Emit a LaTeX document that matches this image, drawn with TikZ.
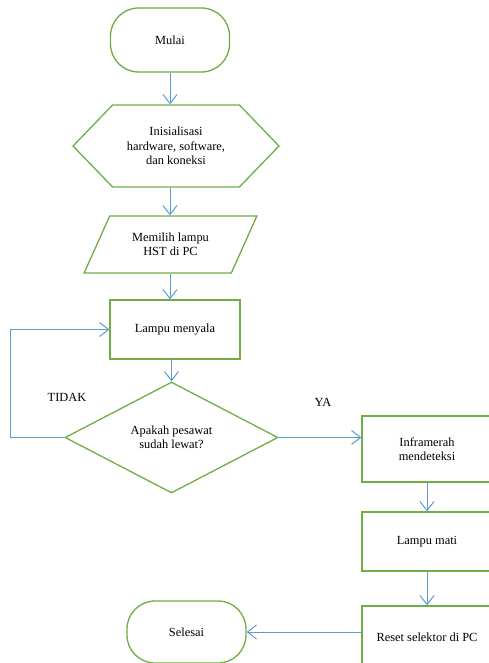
\documentclass[tikz,border=0pt]{standalone}
\usepackage{fontspec}
\setmainfont{Liberation Serif}
\usetikzlibrary{arrows.meta,shapes.geometric,shapes.symbols}

\definecolor{hijau}{RGB}{112,173,71}
\definecolor{biru}{RGB}{91,155,213}

\tikzset{
	kotak/.style={draw=hijau, line width=1.3pt, fill=white, align=center, inner sep=2pt},
	proses/.style={kotak, rectangle, minimum width=130pt},
	terminal/.style={kotak, rectangle, rounded corners=28pt, minimum width=119pt},
	alir/.style={draw=biru, line width=1pt, ->},
}

\begin{document}
\begin{tikzpicture}[x=1pt, y=-1pt, >={Straight Barb[length=9pt,width=14pt]},
	font=\fontsize{12.4}{14.5}\selectfont]
		%\draw [help lines] (0,0) grid (489,663);
		\clip (0,0) rectangle (489,663);
		% Mulai
		\node [terminal, minimum height=64pt] (mulai) at (170,40) {Mulai};
		% Inisialisasi
		\node [kotak, signal, signal to=west and east, signal pointer angle=92,
			minimum width=206pt, minimum height=82pt, inner sep=0pt] (init) at (176,146)
			{Inisialisasi\\hardware, software,\\dan koneksi};
		% Memilih lampu
		\node [kotak, trapezium, trapezium left angle=58, trapezium right angle=122,
			trapezium stretches=true, minimum width=173pt, minimum height=57pt] (pilih)
			at (170.5,244.5) {Memilih lampu\\HST di PC};
		% Lampu menyala
		\node [proses, minimum height=59pt] (menyala) at (175,329.5) {Lampu menyala};
		% Keputusan
		\node [kotak, diamond, minimum width=213pt, minimum height=111pt, inner sep=0pt]
			(tanya) at (171.5,437.5) {Apakah pesawat\\sudah lewat?};
		% Cabang YA
		\node [proses, minimum height=66pt] (infra) at (427,449) {Inframerah\\mendeteksi};
		\node [proses, minimum height=59pt] (mati) at (427,541.5) {Lampu mati};
		\node [proses, minimum height=62pt] (reset) at (427,637) {Reset selektor di PC};
		% Selesai
		\node [terminal, minimum height=62pt] (selesai) at (186.5,632) {Selesai};
		
		\node (tidak) at (67,397) {TIDAK};
		\node (ya) at (323,402) {YA};
		
		% Panah
		\draw [alir] (mulai.south) -- (mulai.south |- init.north);
		\draw [alir] (init.south -| mulai.south) -- (mulai.south |- pilih.north);
		\draw [alir] (pilih.south -| mulai.south) -- (mulai.south |- menyala.north);
		\draw [alir] (menyala.south -| tanya.north) -- (tanya.north);
		\draw [alir] (tanya.west) -- ++(-54,0) |- (menyala.west);
		\draw [alir] (tanya.east) -- (tanya.east -| infra.west);
		\draw [alir] (infra) -- (mati);
		\draw [alir] (mati) -- (reset);
		\draw [alir] (reset.west |- selesai.east) -- (selesai.east);
	\end{tikzpicture}
\end{document}
